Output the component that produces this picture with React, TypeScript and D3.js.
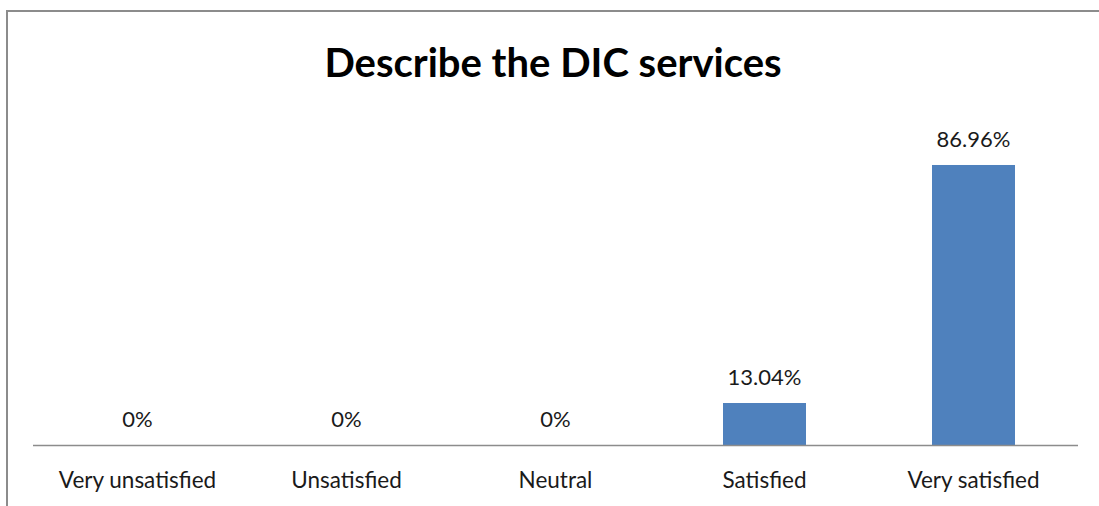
import React from "react";
import * as d3 from "d3";

const categories = ["Very unsatisfied", "Unsatisfied", "Neutral", "Satisfied", "Very satisfied"];
const values = [0, 0, 0, 13.04, 86.96];
const valueLabels = ["0%", "0%", "0%", "13.04%", "86.96%"];
const title = "Describe the DIC services";

const W = 1099;
const H = 506;
const FONT = "Lato, 'Open Sans', sans-serif";

export default function App() {
  const left = 33;
  const right = 1078;
  const baseY = 445;
  const y = d3.scaleLinear().domain([0, 100]).range([baseY, 123]);
  const band = d3.scaleBand<string>().domain(categories).range([left, right]);

  return (
    <svg
      width={W}
      height={H}
      style={{ position: "absolute", left: 0, top: 0, background: "#fff" }}
    >
      <rect x={0} y={0} width={W} height={H} fill="#fff" />
      <line x1={7} y1={11} x2={W} y2={11} stroke="#8c8c8c" strokeWidth={2} />
      <line x1={7} y1={10} x2={7} y2={H} stroke="#8c8c8c" strokeWidth={2} />
      <text
        x={553}
        y={77}
        textAnchor="middle"
        fontFamily={FONT}
        fontWeight="bold"
        fontSize={40}
        fill="#000"
      >
        {title}
      </text>
      {categories.map((c, i) => {
        const cx = (band(c) as number) + band.bandwidth() / 2;
        const bw = 83;
        const top = y(values[i]);
        return (
          <g key={c}>
            {values[i] > 0 && (
              <rect x={cx - bw / 2} y={top} width={bw} height={baseY - top} fill="#4f81bd" />
            )}
            <text
              x={cx}
              y={top - 18}
              textAnchor="middle"
              fontFamily={FONT}
              fontSize={22}
              fill="#1a1a1a"
            >
              {valueLabels[i]}
            </text>
            <text
              x={cx}
              y={488}
              textAnchor="middle"
              fontFamily={FONT}
              fontSize={22.5}
              fill="#1a1a1a"
            >
              {c}
            </text>
          </g>
        );
      })}
      <line x1={left} y1={baseY + 0.5} x2={right} y2={baseY + 0.5} stroke="#8c8c8c" strokeWidth={1.5} />
    </svg>
  );
}
